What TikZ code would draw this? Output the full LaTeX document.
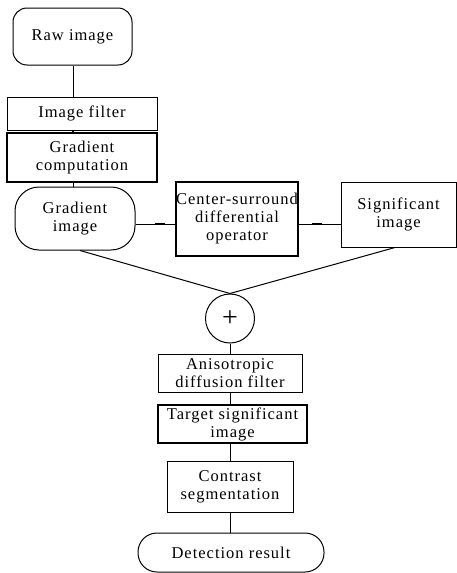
\documentclass[tikz,border=0pt]{standalone}
\usepackage{fontspec}
\setmainfont[LetterSpace=6]{Liberation Serif}
\begin{document}
\begin{tikzpicture}[x=1pt,y=-1pt,
  base/.style={draw, line width=1pt, inner sep=0pt, align=center,
    font=\fontsize{16.5}{18}\selectfont},
  thickbox/.style={base, line width=1.7pt},
  conn/.style={line width=1pt},
  tick/.style={line width=2.6pt}]
\useasboundingbox (0,0) rectangle (457,573);
\node[base, rounded corners=14pt, minimum width=119pt, minimum height=57pt] (raw) at (72.5,36.5) {Raw image};
\node[base, minimum width=150pt, minimum height=33pt] (filter) at (82,113.5) {Image filter};
\node[thickbox, minimum width=150pt, minimum height=49pt] (gcomp) at (82,157.5) {Gradient\\computation};
\node[base, rounded corners=24pt, minimum width=120pt, minimum height=63pt] (gimg) at (75,218.5) {Gradient\\image};
\node[thickbox, minimum width=118pt, minimum height=74pt] (csd) at (237,219) {Center-surround\\differential\\operator};
\node[base, minimum width=115pt, minimum height=65pt] (sig) at (398.5,214.5) {Significant\\image};
\node[base, circle, minimum size=49pt, font=\fontsize{28}{28}\selectfont] (plus) at (230,318.5) {+};
\node[base, minimum width=144pt, minimum height=38pt] (aniso) at (230,373) {Anisotropic\\diffusion filter};
\node[thickbox, minimum width=149pt, minimum height=38pt] (target) at (232.5,424) {Target significant\\image};
\node[base, minimum width=126pt, minimum height=51pt] (contrast) at (230,486.5) {Contrast\\segmentation};
\node[base, rounded corners=19pt, minimum width=186pt, minimum height=39pt] (detect) at (231,552.5) {Detection result};
\coordinate (vx) at (73,0);
\draw[conn] (vx |- raw.south) -- (vx |- filter.north);
\draw[line width=2pt] (vx |- filter.south) -- (vx |- gcomp.north);
\draw[conn] (vx |- gcomp.south) -- (vx |- gimg.north);
\coordinate (hy) at (0,224);
\draw[conn] (gimg.east |- hy) -- (csd.west |- hy);
\draw[conn] (csd.east |- hy) -- (sig.west |- hy);
\draw[tick] (155,224) -- (165,224);
\draw[tick] (312,224) -- (322,224);
\draw[conn] ([xshift=5pt]gimg.south) -- (plus.north);
\draw[conn] ([xshift=-3.5pt]sig.south) -- (plus.north);
\draw[conn] (plus.south) -- (aniso.north);
\draw[conn] (aniso.south) -- (aniso.south |- target.north);
\draw[conn] (aniso.south |- target.south) -- (contrast.north);
\draw[conn] (contrast.south) -- (contrast.south |- detect.north);
\end{tikzpicture}
\end{document}
